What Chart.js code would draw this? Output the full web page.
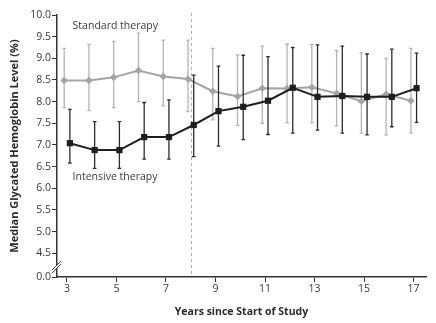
<!DOCTYPE html>
<html>
<head>
<meta charset="utf-8">
<script src="https://cdn.jsdelivr.net/npm/chart.js@4/dist/chart.umd.min.js"></script>
<style>
  html,body{margin:0;padding:0;background:#fff;}
  #wrap{width:436px;height:323px;}
</style>
</head>
<body>
<div id="wrap"><canvas id="c" width="436" height="323"></canvas></div>
<script>
// ---- data ----
const years = [3,4,5,6,7,8,9,10,11,12,13,14,15,16,17];

const standardMedian = [8.49,8.49,8.56,8.72,8.58,8.52,8.24,8.12,8.31,8.30,8.33,8.19,8.01,8.17,8.02];
const standardHigh   = [9.23,9.32,9.39,9.58,9.42,9.42,9.23,9.08,9.28,9.33,9.32,9.18,9.13,9.00,9.23];
const standardLow    = [7.86,7.79,7.86,8.00,7.90,7.77,7.58,7.45,7.50,7.51,7.51,7.44,7.27,7.23,7.27];

const intensiveMedian = [7.04,6.88,6.88,7.18,7.18,7.46,7.78,7.88,8.02,8.32,8.11,8.13,8.11,8.11,8.31];
const intensiveHigh   = [7.82,7.54,7.54,7.98,8.04,8.61,8.82,9.07,9.04,9.25,9.31,9.28,9.10,9.21,9.12];
const intensiveLow    = [6.58,6.46,6.46,6.67,6.67,6.73,6.97,7.12,7.24,7.27,7.34,7.27,7.23,7.42,7.52];

const xTickValues = [3,5,7,9,11,13,15,17];
const yTickValues = [3.95,4.5,5.0,5.5,6.0,6.5,7.0,7.5,8.0,8.5,9.0,9.5,10.0];
const yTickLabels = ['0.0','4.5','5.0','5.5','6.0','6.5','7.0','7.5','8.0','8.5','9.0','9.5','10.0'];

const seriesNames = ['Intensive therapy','Standard therapy'];
const labelPositions = [{x:3.23, y:6.27},{x:3.23, y:9.75}];
const transitionYear = 8.03;

// ---- styling ----
const STD_COLOR = '#a4a4a4', STD_BAR = '#b4b4b4';
const INT_COLOR = '#1e1e1e', INT_BAR = '#2c2c2c';
const STD_SHIFT = -0.11, INT_SHIFT = 0.12;

const stdData = years.map((y,i)=>({x:y+STD_SHIFT, y:standardMedian[i], lo:standardLow[i], hi:standardHigh[i]}));
const intData = years.map((y,i)=>({x:y+INT_SHIFT, y:intensiveMedian[i], lo:intensiveLow[i], hi:intensiveHigh[i]}));

const errorBars = {
  id:'errorBars',
  beforeDatasetDraw(chart, args){
    const ds = chart.data.datasets[args.index];
    const xs = chart.scales.x, ys = chart.scales.y;
    const ctx = chart.ctx;
    ctx.save();
    ctx.strokeStyle = ds.barColor;
    ctx.lineWidth = 1.3;
    ds.data.forEach(p=>{
      const px = xs.getPixelForValue(p.x);
      const t = ys.getPixelForValue(p.hi), b = ys.getPixelForValue(p.lo);
      ctx.beginPath();
      ctx.moveTo(px,t); ctx.lineTo(px,b);
      ctx.moveTo(px-1.8,t); ctx.lineTo(px+1.8,t);
      ctx.moveTo(px-1.8,b); ctx.lineTo(px+1.8,b);
      ctx.stroke();
    });
    ctx.restore();
  }
};

const decorations = {
  id:'decorations',
  beforeDatasetsDraw(chart){
    const {ctx, chartArea, scales:{x,y}} = chart;
    const dx = Math.round(x.getPixelForValue(transitionYear))+0.5;
    ctx.save();
    ctx.strokeStyle = '#b0b0b0';
    ctx.lineWidth = 1;
    ctx.setLineDash([3,3]);
    ctx.beginPath();
    ctx.moveTo(dx, chartArea.top-2);
    ctx.lineTo(dx, chartArea.bottom);
    ctx.stroke();
    ctx.restore();
    ctx.save();
    ctx.fillStyle = '#3a3a3a';
    ctx.font = '10.5px "Open Sans"';
    ctx.textBaseline = 'middle';
    ctx.textAlign = 'left';
    seriesNames.forEach((n,i)=>{
      ctx.fillText(n, x.getPixelForValue(labelPositions[i].x), y.getPixelForValue(labelPositions[i].y));
    });
    ctx.restore();
  },
  afterDraw(chart){
    const {ctx, scales:{y}} = chart;
    const ax = y.right;
    const yb = (y.getPixelForValue(4.5) + y.getPixelForValue(3.95))/2 + 1;
    ctx.save();
    ctx.fillStyle = '#fff';
    ctx.beginPath();
    ctx.moveTo(ax-5, yb+4); ctx.lineTo(ax+4, yb-5); ctx.lineTo(ax+4, yb-2); ctx.lineTo(ax-5, yb+7);
    ctx.closePath();
    ctx.fill();
    ctx.strokeStyle = '#333';
    ctx.lineWidth = 1;
    ctx.beginPath();
    ctx.moveTo(ax-5, yb+4); ctx.lineTo(ax+4, yb-5);
    ctx.moveTo(ax-5, yb+7); ctx.lineTo(ax+4, yb-2);
    ctx.stroke();
    ctx.restore();
  }
};

new Chart(document.getElementById('c'), {
  type:'scatter',
  data:{
    datasets:[
      {label:seriesNames[0], data:intData, showLine:true, borderColor:INT_COLOR, backgroundColor:INT_COLOR,
       borderWidth:2, pointStyle:'rect', pointRadius:4.4, pointBorderWidth:0, barColor:INT_BAR, order:1},
      {label:seriesNames[1], data:stdData, showLine:true, borderColor:STD_COLOR, backgroundColor:STD_COLOR,
       borderWidth:2, pointStyle:'rectRot', pointRadius:3.8, pointBorderWidth:0, barColor:STD_BAR, order:2}
    ]
  },
  options:{
    responsive:false,
    animation:false,
    devicePixelRatio:1,
    layout:{padding:{top:15,right:10,left:0,bottom:0}},
    plugins:{legend:{display:false}, tooltip:{enabled:false}},
    scales:{
      x:{
        type:'linear', min:2.6, max:17.5,
        afterBuildTicks(s){ s.ticks = xTickValues.map(v=>({value:v})); },
        afterFit(s){ s.height = 46; },
        grid:{drawOnChartArea:false, drawTicks:true, tickLength:5, color:'#333', lineWidth:1},
        border:{color:'#333', width:1.5},
        ticks:{color:'#3a3a3a', font:{family:'Open Sans', size:10.5}, padding:1, maxRotation:0,
               callback:(v)=>String(v)},
        title:{display:true, text:'Years since Start of Study', color:'#2a2a2a',
               font:{family:'Open Sans', size:10.5, weight:'bold'}, padding:{top:0,bottom:5}}
      },
      y:{
        type:'linear', min:3.95, max:10,
        afterBuildTicks(s){ s.ticks = yTickValues.map(v=>({value:v})); },
        afterFit(s){ s.width = 57; },
        grid:{drawOnChartArea:false, drawTicks:true, tickLength:5, color:'#333', lineWidth:1},
        border:{color:'#333', width:1.5},
        ticks:{color:'#3a3a3a', font:{family:'Open Sans', size:10.5}, padding:1,
               callback:(v)=>{ const i = yTickValues.indexOf(v); return i>=0 ? yTickLabels[i] : ''; }},
        title:{display:true, text:'Median Glycated Hemoglobin Level (%)', color:'#2a2a2a',
               font:{family:'Open Sans', size:11, weight:'bold'}, padding:{top:8,bottom:0}}
      }
    }
  },
  plugins:[errorBars, decorations]
});
</script>
</body>
</html>
